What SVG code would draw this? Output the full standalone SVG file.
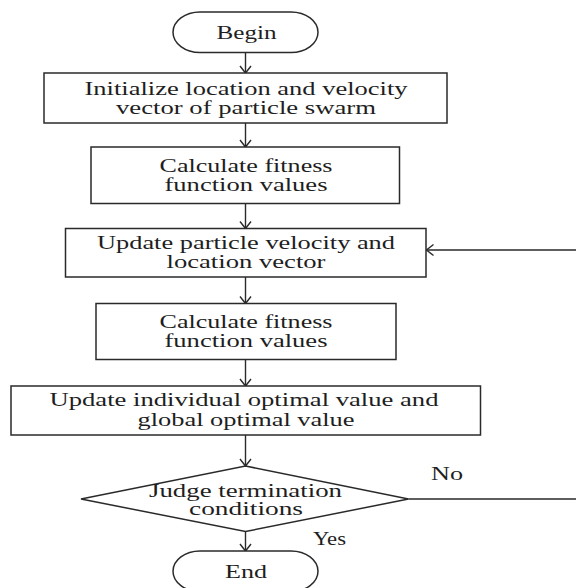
<svg xmlns="http://www.w3.org/2000/svg" width="576" height="588" viewBox="0 0 576 588">
<style>
.shape{fill:#fff;stroke:#2a2a2a;stroke-width:1.5}
.conn{fill:none;stroke:#2a2a2a;stroke-width:1.4}
text{font-family:"Liberation Serif","Times New Roman",serif;font-size:18px;fill:#1e1e1e}
.c{text-anchor:middle}
</style>
<defs>
<marker id="arr" markerUnits="userSpaceOnUse" markerWidth="16" markerHeight="16" viewBox="-10 -8 12 16" refX="0" refY="0" orient="auto">
<path d="M-7,-5.5 L0,0 L-7,5.5" fill="none" stroke="#2a2a2a" stroke-width="1.4"/>
</marker>
</defs>
<rect width="576" height="588" fill="#fff"/>
<g id="connectors">
<line class="conn" x1="245.5" y1="52.5" x2="245.5" y2="73" marker-end="url(#arr)"/>
<line class="conn" x1="245.5" y1="123" x2="245.5" y2="147" marker-end="url(#arr)"/>
<line class="conn" x1="245.5" y1="203.5" x2="245.5" y2="228.5" marker-end="url(#arr)"/>
<line class="conn" x1="245.5" y1="277" x2="245.5" y2="303.5" marker-end="url(#arr)"/>
<line class="conn" x1="245.5" y1="359.5" x2="245.5" y2="386" marker-end="url(#arr)"/>
<line class="conn" x1="245.5" y1="435" x2="245.5" y2="466" marker-end="url(#arr)"/>
<line class="conn" x1="245.5" y1="531.5" x2="245.5" y2="551" marker-end="url(#arr)"/>
<path class="conn" d="M408.5,499 H592 V250 H426.5" marker-end="url(#arr)"/>
<text x="431" y="480" textLength="32" lengthAdjust="spacingAndGlyphs">No</text>
<text x="313" y="545" textLength="33" lengthAdjust="spacingAndGlyphs">Yes</text>
</g>
<g id="begin">
<rect class="shape" x="173" y="12" width="145" height="40.5" rx="27" ry="20.25"/>
<text class="c" x="246.5" y="38.5" textLength="60" lengthAdjust="spacingAndGlyphs">Begin</text>
</g>
<g id="init">
<rect class="shape" x="44" y="73" width="403" height="50"/>
<text class="c" x="246" y="94.5" textLength="323" lengthAdjust="spacingAndGlyphs">Initialize location and velocity</text>
<text class="c" x="246" y="113.5" textLength="260" lengthAdjust="spacingAndGlyphs">vector of particle swarm</text>
</g>
<g id="fitness1">
<rect class="shape" x="91" y="147" width="308.5" height="56.5"/>
<text class="c" x="246" y="171.5" textLength="173" lengthAdjust="spacingAndGlyphs">Calculate fitness</text>
<text class="c" x="246" y="190.5" textLength="163" lengthAdjust="spacingAndGlyphs">function values</text>
</g>
<g id="update-velocity">
<rect class="shape" x="65.5" y="228.5" width="360.5" height="48.5"/>
<text class="c" x="246" y="249" textLength="298" lengthAdjust="spacingAndGlyphs">Update particle velocity and</text>
<text class="c" x="246" y="268" textLength="159" lengthAdjust="spacingAndGlyphs">location vector</text>
</g>
<g id="fitness2">
<rect class="shape" x="96" y="303.5" width="300" height="56"/>
<text class="c" x="246" y="327.5" textLength="173" lengthAdjust="spacingAndGlyphs">Calculate fitness</text>
<text class="c" x="246" y="346.5" textLength="163" lengthAdjust="spacingAndGlyphs">function values</text>
</g>
<g id="update-optimal">
<rect class="shape" x="11" y="386" width="469.5" height="49"/>
<text class="c" x="244" y="406" textLength="389" lengthAdjust="spacingAndGlyphs">Update individual optimal value and</text>
<text class="c" x="246" y="425.5" textLength="217" lengthAdjust="spacingAndGlyphs">global optimal value</text>
</g>
<g id="judge">
<polygon class="shape" points="81,499 245.5,466 408.5,499 245.5,531.5"/>
<text class="c" x="245.5" y="496.5" textLength="193" lengthAdjust="spacingAndGlyphs">Judge termination</text>
<text class="c" x="246" y="515" textLength="114" lengthAdjust="spacingAndGlyphs">conditions</text>
</g>
<g id="end">
<rect class="shape" x="173" y="551" width="145" height="40.5" rx="27" ry="20.25"/>
<text class="c" x="246" y="578" textLength="42" lengthAdjust="spacingAndGlyphs">End</text>
</g>
</svg>
